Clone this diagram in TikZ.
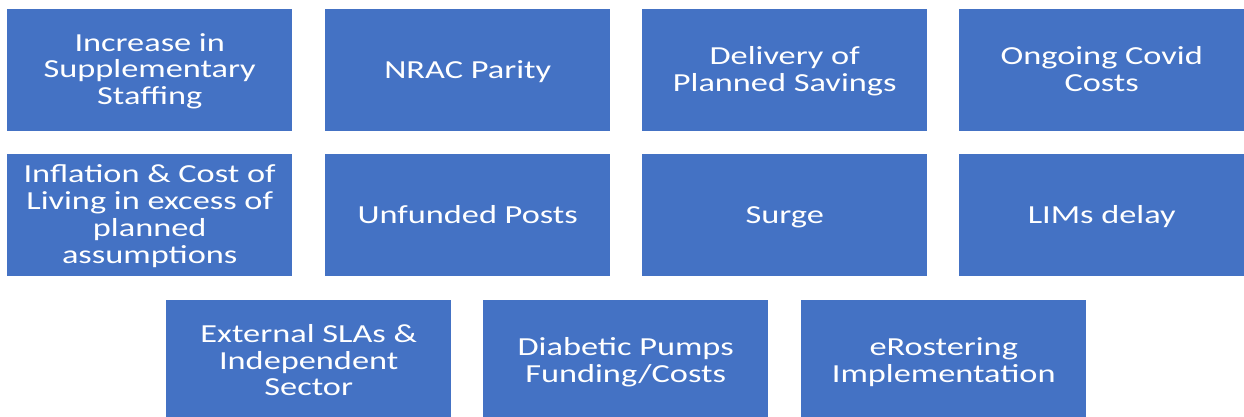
\documentclass[tikz,border=0pt]{standalone}
\usepackage{fontspec}
\setmainfont[FakeStretch=1.32]{Carlito}
\definecolor{boxblue}{HTML}{4472C4}
\tikzset{
  card/.style={fill=boxblue, draw=none, minimum width=285pt, minimum height=122pt,
    inner sep=0pt, anchor=north west},
  cardtext/.style={inner sep=0pt, text=white, align=center, anchor=center,
    font=\fontsize{26pt}{26.7pt}\selectfont, yshift=-2.8pt,
    execute at begin node={\strut}, execute at end node={\strut}}
}
\newcommand{\mycard}[3]{%
  \node[card] (#1) at (#2) {};
  \node[cardtext] (#1t) at (#1.center) {#3};}
\begin{document}
\begin{tikzpicture}[x=1pt,y=-1pt]
\useasboundingbox (0,0) rectangle (1244,416);
\clip (0,0) rectangle (1244,416);
\fill[white] (0,0) rectangle (1244,416);
% row 1
\mycard{a1}{7,9}{Increase in\\Supplementary\\Staffing}
\mycard{a2}{325,9}{NRAC Parity}
\mycard{a3}{642,9}{Delivery of\\Planned Savings}
\mycard{a4}{959,9}{Ongoing Covid\\Costs}
% row 2
\mycard{b1}{7,154}{Inflation \& Cost of\\Living in excess of\\planned\\assumptions}
\mycard{b2}{325,154}{Unfunded Posts}
\mycard{b3}{642,154}{Surge}
\mycard{b4}{959,154}{LIMs delay}
% row 3
\mycard{c1}{166,300}{External SLAs \&\\Independent\\Sector}
\mycard{c2}{483,300}{Diabetic Pumps\\Funding/Costs}
\mycard{c3}{801,300}{eRostering\\Implementation}
\end{tikzpicture}
\end{document}
